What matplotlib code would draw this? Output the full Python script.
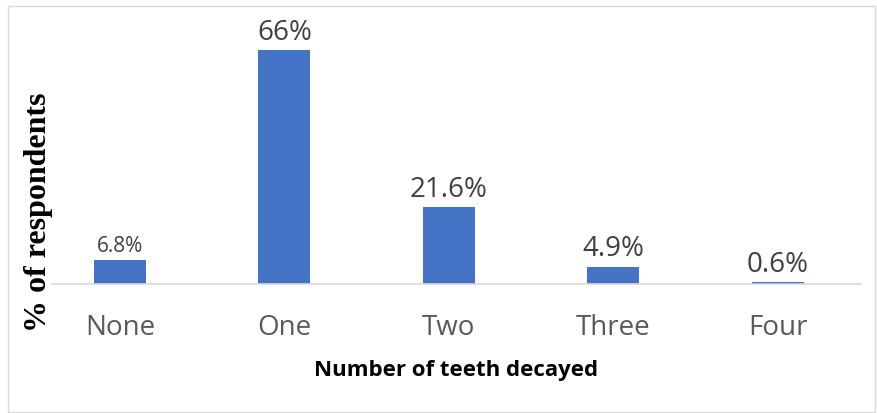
import matplotlib
matplotlib.use('Agg')
import matplotlib.pyplot as plt
from matplotlib.patches import Rectangle

categories = ['None', 'One', 'Two', 'Three', 'Four']
percent = [6.8, 66, 21.6, 4.9, 0.6]
labels = ['6.8%', '66%', '21.6%', '4.9%', '0.6%']
label_sizes = [15, 20, 20, 20, 20]

fig = plt.figure(figsize=(8.78, 4.14), dpi=100)
ax = fig.add_axes([0.0592, 0.3116, 0.9214, 0.6424])

x = range(len(categories))
ax.bar(x, percent, width=0.316, color='#4472C4')
for i, v in enumerate(percent):
    ax.annotate(labels[i], (i, v), xytext=(0, 3), textcoords='offset points',
                ha='center', va='bottom', fontsize=label_sizes[i],
                family='Open Sans', color='#404040')

ax.set_xlim(-0.413, 4.505)
ax.set_ylim(0, 75)
ax.set_xticks(list(x))
ax.set_xticklabels(categories, family='Open Sans', fontsize=20, color='#595959')
ax.tick_params(axis='x', length=0, pad=21)
ax.set_yticks([])
for s in ['top', 'right', 'left']:
    ax.spines[s].set_visible(False)
ax.spines['bottom'].set_color('#D9D9D9')
ax.spines['bottom'].set_linewidth(1.2)

ax.set_xlabel('Number of teeth decayed', family='Open Sans', fontweight='bold',
              fontsize=16, labelpad=13)
fig.text(0.044, 0.488, '% of respondents', rotation=90, ha='center', va='center',
         family='Liberation Serif', fontweight='bold', fontsize=23)

fig.patches.append(Rectangle((8 / 878, 1 / 414), 867 / 878, 406 / 414,
                             transform=fig.transFigure, fill=False,
                             edgecolor='#D9D9D9', linewidth=1))

fig.savefig('out.png', dpi=100)
